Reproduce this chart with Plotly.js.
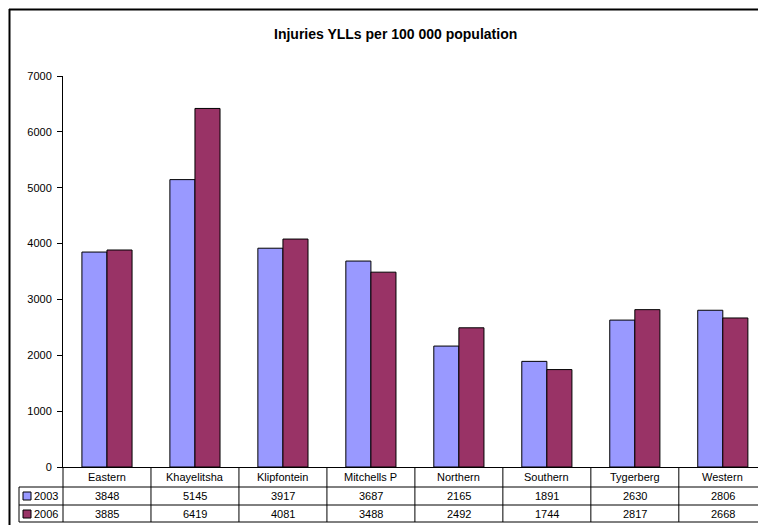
<!DOCTYPE html>
<html>
<head>
<meta charset="utf-8">
<script src="https://cdn.plot.ly/plotly-3.0.1.min.js"></script>
<style>html,body{margin:0;padding:0;background:#fff;}#chart{width:758px;height:525px;}</style>
</head>
<body>
<div id="chart"></div>
<script>
const categories = ["Eastern", "Khayelitsha", "Klipfontein", "Mitchells P", "Northern", "Southern", "Tygerberg", "Western"];
const values2003 = [3848, 5145, 3917, 3687, 2165, 1891, 2630, 2806];
const values2006 = [3885, 6419, 4081, 3488, 2492, 1744, 2817, 2668];
const seriesNames = ["2003", "2006"];
const yTicks = [0, 1000, 2000, 3000, 4000, 5000, 6000, 7000];

const W = 758, H = 525;
const mL = 63, mR = 0, mT = 76, mB = 58;
const plotW = W - mL - mR, plotH = H - mT - mB;
const xRange = [-0.5, 7.4];
const px2x = px => (px - mL) / plotW;
const py2y = py => (H - mB - py) / plotH;
const cat2x = c => (c - xRange[0]) / (xRange[1] - xRange[0]);

const colors = ["#9999FF", "#993366"];

const traces = [
  {type: "bar", name: seriesNames[0], x: categories, y: values2003,
   marker: {color: colors[0], line: {color: "#000", width: 1}}, hoverinfo: "none"},
  {type: "bar", name: seriesNames[1], x: categories, y: values2006,
   marker: {color: colors[1], line: {color: "#000", width: 1}}, hoverinfo: "none"}
];

const font = {family: "Arial, 'Liberation Sans', sans-serif", size: 11, color: "#000"};
const shapes = [];
const annotations = [];
const line = {color: "#000", width: 1};

// table horizontal lines
const tableLeft = 19;
[487, 505, 522].forEach(py => {
  shapes.push({type: "line", xref: "paper", yref: "paper", x0: px2x(tableLeft), x1: 1.02, y0: py2y(py), y1: py2y(py), line});
});
// left legend box vertical line
shapes.push({type: "line", xref: "paper", yref: "paper", x0: px2x(tableLeft), x1: px2x(tableLeft), y0: py2y(487), y1: py2y(522), line});
// y axis extension through table
shapes.push({type: "line", xref: "paper", yref: "paper", x0: 0, x1: 0, y0: 0, y1: py2y(522), line});
// category boundaries
for (let i = 0; i < categories.length; i++) {
  const xb = cat2x(i + 0.5);
  if (xb < 1) shapes.push({type: "line", xref: "paper", yref: "paper", x0: xb, x1: xb, y0: 0, y1: py2y(522), line});
}
// outer border (chart area)
shapes.push({type: "line", xref: "paper", yref: "paper", x0: px2x(9.5), x1: px2x(9.5), y0: py2y(9), y1: py2y(530), line: {color: "#000", width: 2}});
shapes.push({type: "line", xref: "paper", yref: "paper", x0: px2x(9), x1: 1.05, y0: py2y(9.5), y1: py2y(9.5), line: {color: "#000", width: 2}});

// header + data cells
categories.forEach((c, i) => {
  annotations.push({xref: "x", yref: "paper", x: c, y: py2y(477), text: c, showarrow: false, font, xanchor: "center", yanchor: "middle"});
  annotations.push({xref: "x", yref: "paper", x: c, y: py2y(496), text: String(values2003[i]), showarrow: false, font, xanchor: "center", yanchor: "middle"});
  annotations.push({xref: "x", yref: "paper", x: c, y: py2y(514), text: String(values2006[i]), showarrow: false, font, xanchor: "center", yanchor: "middle"});
});
// legend keys
[[496, 0], [514, 1]].forEach(([py, k]) => {
  shapes.push({type: "rect", xref: "paper", yref: "paper", x0: px2x(23), x1: px2x(31), y0: py2y(py - 4), y1: py2y(py + 4),
    fillcolor: colors[k], line: {color: "#000", width: 1}});
  annotations.push({xref: "paper", yref: "paper", x: px2x(32), y: py2y(py), text: seriesNames[k], showarrow: false, font, xanchor: "left", yanchor: "middle"});
});

// title
annotations.push({xref: "paper", yref: "paper", x: px2x(395), y: py2y(34), text: "<b>Injuries YLLs per 100 000 population</b>",
  showarrow: false, font: {family: "Arial, 'Liberation Sans', sans-serif", size: 14, color: "#000"}, xanchor: "center", yanchor: "middle"});

const layout = {
  width: W, height: H,
  margin: {l: mL, r: mR, t: mT, b: mB, pad: 0},
  paper_bgcolor: "#fff", plot_bgcolor: "#fff",
  showlegend: false,
  barmode: "group", bargap: 0.43, bargroupgap: 0,
  font,
  xaxis: {type: "category", range: xRange, showticklabels: false, ticks: "", showgrid: false, zeroline: false,
    showline: true, linecolor: "#000", linewidth: 1, fixedrange: true},
  yaxis: {range: [0, 7000], tickvals: yTicks, ticktext: yTicks.map(String), ticks: "outside", ticklen: 5, tickcolor: "#000",
    ticklabelstandoff: 3,
    showgrid: false, zeroline: false, showline: true, linecolor: "#000", linewidth: 1, tickfont: font, fixedrange: true},
  shapes, annotations
};

Plotly.newPlot("chart", traces, layout, {displayModeBar: false, staticPlot: true});
</script>
</body>
</html>
